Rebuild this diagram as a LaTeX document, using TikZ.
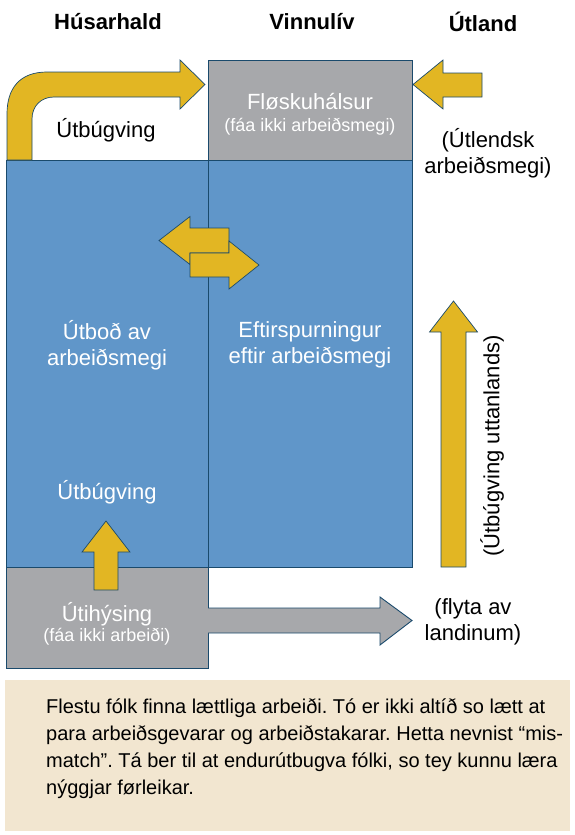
\documentclass[tikz,border=0pt]{standalone}
\usepackage{fontspec}
\setmainfont{Liberation Sans}
\usetikzlibrary{positioning}
\definecolor{PanelBlue}{RGB}{96,150,201}
\definecolor{PanelGrey}{RGB}{167,168,171}
\definecolor{EdgeBlue}{RGB}{26,74,108}
\definecolor{ArrowGold}{RGB}{226,182,35}
\definecolor{NoteBeige}{RGB}{242,230,208}

\begin{document}
\frenchspacing
\begin{tikzpicture}[x=1pt, y=-1pt,
          panel/.style={draw=EdgeBlue, line width=1pt, inner sep=0pt},
          bigtxt/.style={font=\fontsize{22}{25.5}\selectfont, align=center, inner sep=0pt},
          smalltxt/.style={font=\fontsize{18}{20}\selectfont, align=center, inner sep=0pt},
          colhead/.style={font=\fontsize{22}{26}\selectfont\bfseries, inner sep=0pt},
          goldarrow/.style={fill=ArrowGold, draw=EdgeBlue, line width=0.7pt},
          greyarrow/.style={fill=PanelGrey, draw=EdgeBlue, line width=0.9pt}
        ]
        \useasboundingbox (0,0) rectangle (575,835);

        % column headings
        \node[colhead] (hhead) at (108,22) {Húsarhald};
        \node[colhead] (vhead) at (312,22) {Vinnulív};
        \node[colhead] (uhead) at (483,22) {Útland};

        % panels
        \node[panel, fill=PanelBlue, minimum width=202, minimum height=407] (supply) at (107,363.5) {};
        \node[panel, fill=PanelBlue, minimum width=204, minimum height=407] (demand) at (310,363.5) {};
        \node[panel, fill=PanelGrey, minimum width=204, minimum height=100] (bottle) at (310,110) {};
        \node[panel, fill=PanelGrey, minimum width=202, minimum height=101] (outside) at (107,617.5) {};

        % arrows
        \draw[goldarrow] (7,160) -- (7,114) .. controls (7,88) and (20,72) .. (47,72)
              -- (180,72) -- (180,60) -- (205,84.5) -- (180,109) -- (180,97) -- (54,97)
              .. controls (41,97) and (32,106) .. (32,119) -- (32,160) -- cycle;
        \draw[goldarrow] (482,73) -- (443,73) -- (443,60) -- (413,84.5) -- (443,109)
              -- (443,97) -- (482,97) -- cycle;
        \draw[goldarrow] (229,228) -- (190,228) -- (190,216.5) -- (159,240.5) -- (190,264.5)
              -- (190,253) -- (229,253) -- cycle;
        \draw[goldarrow] (190,253) -- (229,253) -- (229,241) -- (259,265) -- (229,289)
              -- (229,277) -- (190,277) -- cycle;
        \draw[goldarrow] (94,590) -- (94,552) -- (82,552) -- (106,521) -- (130,552)
              -- (118,552) -- (118,590) -- cycle;
        \draw[goldarrow] (441,567) -- (441,332) -- (429.5,332) -- (453.5,301) -- (477.5,332)
              -- (466,332) -- (466,567) -- cycle;
        \draw[greyarrow] (208,608) -- (380,608) -- (380,597) -- (412,620.5) -- (380,645)
              -- (380,633) -- (208,633);

        % labels
        \node[bigtxt] (trainhh) at (106,130) {Útbúgving};
        \node[bigtxt, white] (bottlet) at (310,102) {Fløskuhálsur};
        \node[smalltxt, white] (bottles) at (310,127) {(fáa ikki arbeiðsmegi)};
        \node[bigtxt] (foreign) at (488,153) {(Útlendsk\\arbeiðsmegi)};
        \node[bigtxt, white] (supplyt) at (107,345) {Útboð av\\arbeiðsmegi};
        \node[bigtxt, white] (demandt) at (310,345) {Eftirspurningur\\eftir arbeiðsmegi};
        \node[bigtxt, white] (trainin) at (107,492) {Útbúgving};
        \node[bigtxt, white] (outsidet) at (107,614) {Útihýsing};
        \node[smalltxt, white] (outsides) at (107,637) {(fáa ikki arbeiði)};
        \node[bigtxt] (move) at (473,622) {(flyta av\\landinum)};
        \node[bigtxt, rotate=90] (trainab) at (492,446) {(Útbúgving uttanlands)};

        % note
        \node[fill=NoteBeige, minimum width=565, minimum height=151, inner sep=0pt] (notebox) at (287.5,755.5) {};
        \node[font=\fontsize{20}{27}\selectfont, align=left, inner sep=0pt, anchor=north west] (notetxt) at (46,699)
              {Flestu fólk finna lættliga arbeiði. Tó er ikki altíð so lætt at\\
               para arbeiðsgevarar og arbeiðstakarar. Hetta nevnist “mis-\\
               match”. Tá ber til at endurútbugva fólki, so tey kunnu læra\\
               nýggjar førleikar.};
      \end{tikzpicture}
\end{document}
